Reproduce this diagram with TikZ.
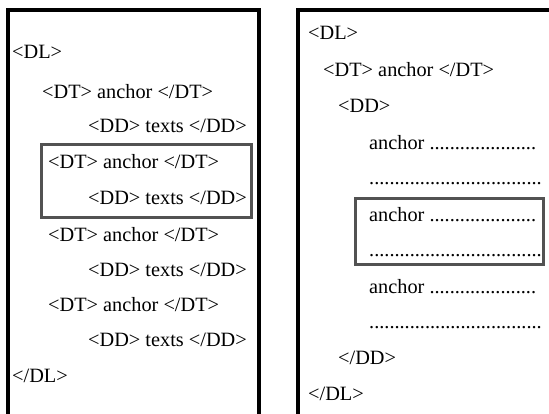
\documentclass[tikz,border=0pt]{standalone}
\usepackage{fontspec}
\setmainfont{Liberation Serif}
\begin{document}
\begin{tikzpicture}[x=1pt,y=-1pt,
  txt/.style={anchor=base west,inner sep=0pt,font=\fontsize{20.3}{24}\selectfont},
  outer/.style={draw=black,line width=3.2pt},
  hilite/.style={draw=black!68,line width=3pt}]
\useasboundingbox (0,0) rectangle (549,413);
\clip (0,0) rectangle (549,413);
\newcommand{\dotsA}{.....................}
\newcommand{\dotsB}{..................................}
% outer frames
\draw[outer] (8,430) -- (8,10) -- (259,10) -- (259,430);
\draw[outer] (298,430) -- (298,10) -- (560,10);
% highlight frames
\draw[hilite] (41,144) rectangle (251,217);
\draw[hilite] (355,198) rectangle (543,264);
% left column
\node[txt] (ldl) at (12,58.5) {<DL>};
\node[txt] (ldt1) at (42,98.5) {<DT> anchor </DT>};
\node[txt] (ldd1) at (88,132.5) {<DD> texts </DD>};
\node[txt] (ldt2) at (48,168.5) {<DT> anchor </DT>};
\node[txt] (ldd2) at (88,204.5) {<DD> texts </DD>};
\node[txt] (ldt3) at (48,241.5) {<DT> anchor </DT>};
\node[txt] (ldd3) at (88,276.5) {<DD> texts </DD>};
\node[txt] (ldt4) at (48,311.5) {<DT> anchor </DT>};
\node[txt] (ldd4) at (88,346.5) {<DD> texts </DD>};
\node[txt] (lcdl) at (12,382.5) {</DL>};
% right column
\node[txt] (rdl) at (308,39.5) {<DL>};
\node[txt] (rdt) at (323,76.5) {<DT> anchor </DT>};
\node[txt] (rdd) at (338,112.5) {<DD>};
\node[txt] (ra1) at (369,149.5) {anchor \dotsA};
\node[txt] (rd1) at (369,184) {\dotsB};
\node[txt] (ra2) at (369,221.5) {anchor \dotsA};
\node[txt] (rd2) at (369,256) {\dotsB};
\node[txt] (ra3) at (369,293.5) {anchor \dotsA};
\node[txt] (rd3) at (369,328) {\dotsB};
\node[txt] (rcdd) at (338,364.5) {</DD>};
\node[txt] (rcdl) at (308,400.5) {</DL>};
\end{tikzpicture}
\end{document}
